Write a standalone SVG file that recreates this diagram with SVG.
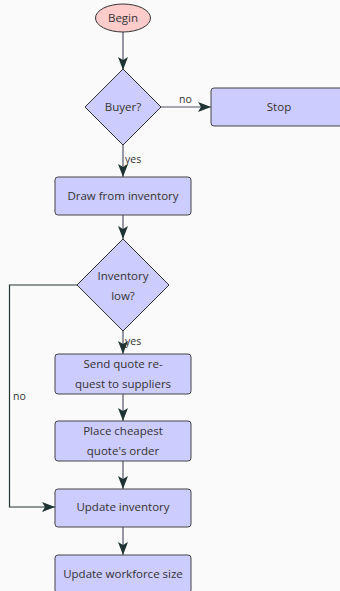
<svg xmlns="http://www.w3.org/2000/svg" width="340" height="591" viewBox="0 0 340 591">
<defs>
<marker id="ah" viewBox="0 0 10 10" refX="10" refY="5" markerWidth="10" markerHeight="10" markerUnits="userSpaceOnUse" orient="auto">
<path d="M0,0 L10,5 L0,10 Z" fill="#1f3333"/>
</marker>
<marker id="ahl" viewBox="0 0 13 10" refX="13" refY="5" markerWidth="13" markerHeight="10" markerUnits="userSpaceOnUse" orient="auto">
<path d="M0,0 L13,5 L0,10 L3,5 Z" fill="#1f3333"/>
</marker>
<style>
.box{fill:#ccccff;stroke:#444;stroke-width:1}
.dia{fill:#ccccff;stroke:#333;stroke-width:1}
.txt{font-family:"Open Sans","DejaVu Sans",sans-serif;font-size:11.5px;fill:#333;text-anchor:middle}
.lbl{font-family:"Open Sans","DejaVu Sans",sans-serif;font-size:10.5px;fill:#333}
.edge{fill:none;stroke:#556;stroke-width:1.2;marker-end:url(#ahl)}
.edge2{fill:none;stroke:#223333;stroke-width:1}
</style>
</defs>
<rect width="340" height="591" fill="#fafafa"/>
<g id="connectors">
<path class="edge" d="M123,32 L123,70"/>
<path class="edge" d="M161,107 L211,107"/>
<path class="edge" d="M123,145 L123,177"/>
<path class="edge" d="M123,215 L123,239"/>
<path class="edge" d="M123,331 L123,354"/>
<path class="edge" d="M123,394 L123,421"/>
<path class="edge" d="M123,461 L123,489"/>
<path class="edge" d="M123,527 L123,555"/>
<path class="edge" d="M77,285 L9.5,285 L9.5,507 L55,507" style="stroke:#223333"/>
<text class="lbl" x="179" y="103">no</text>
<text class="lbl" x="125" y="163">yes</text>
<text class="lbl" x="125" y="345">yes</text>
<text class="lbl" x="13" y="400">no</text>
</g>
<g id="begin">
<ellipse cx="123" cy="18" rx="27.5" ry="14" fill="#ffcccc" stroke="#333" stroke-width="1"/>
<text class="txt" x="123" y="22">Begin</text>
</g>
<g id="buyer">
<polygon class="dia" points="123,69 161,107 123,145 85,107"/>
<text class="txt" x="123" y="111">Buyer?</text>
</g>
<g id="stop">
<rect class="box" x="211" y="88" width="136" height="38" rx="3"/>
<text class="txt" x="279" y="111">Stop</text>
</g>
<g id="draw">
<rect class="box" x="55" y="177" width="136" height="38" rx="3"/>
<text class="txt" x="123" y="200">Draw from inventory</text>
</g>
<g id="invlow">
<polygon class="dia" points="123,239 169,285 123,331 77,285"/>
<text class="txt" x="123" y="280">Inventory</text>
<text class="txt" x="123" y="300">low?</text>
</g>
<g id="sendquote">
<rect class="box" x="55" y="354" width="136" height="40" rx="3"/>
<text class="txt" x="123" y="368">Send quote re-</text>
<text class="txt" x="123" y="388">quest to suppliers</text>
</g>
<g id="place">
<rect class="box" x="55" y="421" width="136" height="40" rx="3"/>
<text class="txt" x="123" y="435">Place cheapest</text>
<text class="txt" x="123" y="455">quote's order</text>
</g>
<g id="updinv">
<rect class="box" x="55" y="489" width="136" height="38" rx="3"/>
<text class="txt" x="123" y="511">Update inventory</text>
</g>
<g id="updwork">
<rect class="box" x="55" y="555" width="136" height="38" rx="3"/>
<text class="txt" x="123" y="578">Update workforce size</text>
</g>
</svg>
